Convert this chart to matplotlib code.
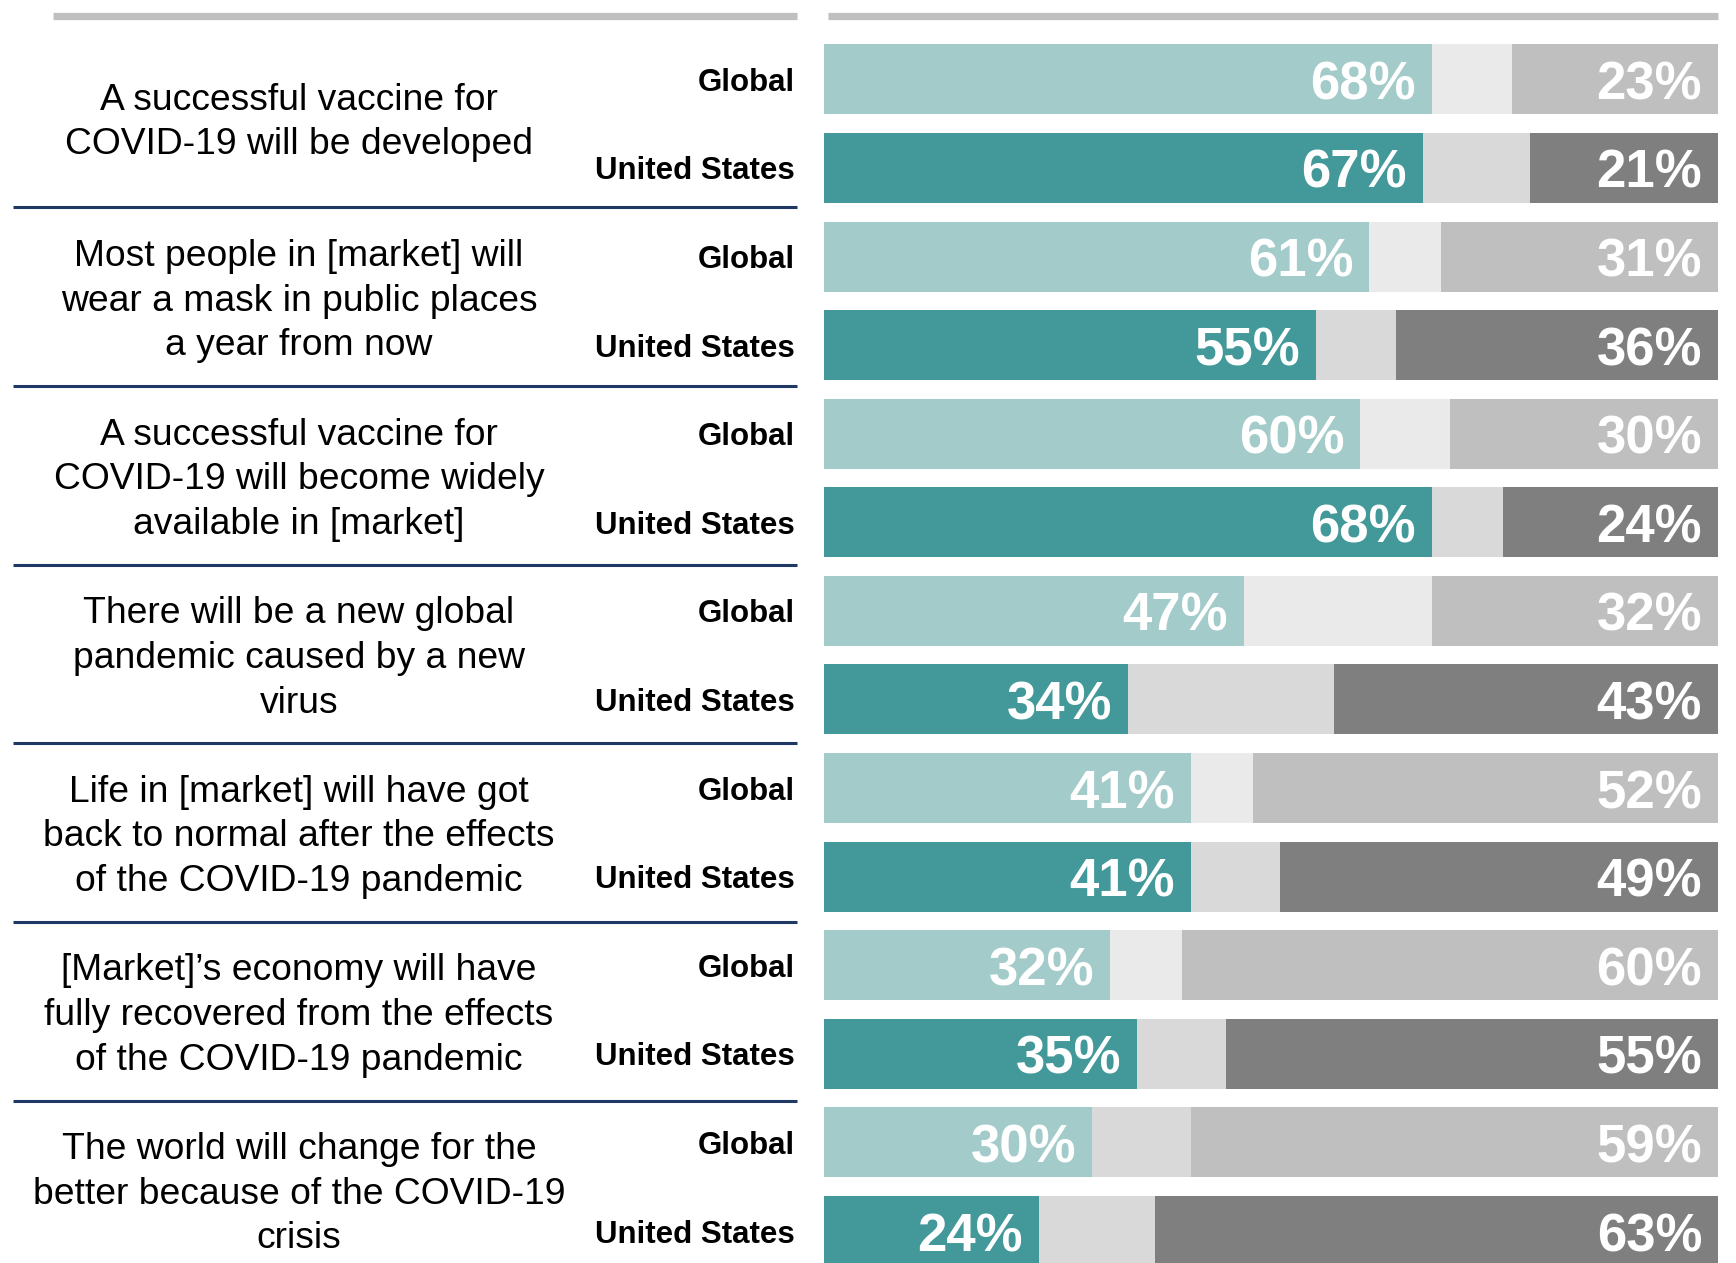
import numpy as np
import matplotlib
matplotlib.use("Agg")
import matplotlib.pyplot as plt

# ── DATA ──────────────────────────────────────────────────────────────────────
statements = [
    "A successful vaccine for\nCOVID-19 will be developed",
    "Most people in [market] will\nwear a mask in public places\na year from now",
    "A successful vaccine for\nCOVID-19 will become widely\navailable in [market]",
    "There will be a new global\npandemic caused by a new\nvirus",
    "Life in [market] will have got\nback to normal after the effects\nof the COVID-19 pandemic",
    "[Market]\u2019s economy will have\nfully recovered from the effects\nof the COVID-19 pandemic",
    "The world will change for the\nbetter because of the COVID-19\ncrisis",
]
row_labels = ["Global", "United States"]

global_agree    = [68, 61, 60, 47, 41, 32, 30]
global_disagree = [23, 31, 30, 32, 52, 60, 59]
us_agree        = [67, 55, 68, 34, 41, 35, 24]
us_disagree     = [21, 36, 24, 43, 49, 55, 63]

# ── STYLE ─────────────────────────────────────────────────────────────────────
plt.rcParams["font.family"] = ["Liberation Sans", "DejaVu Sans"]

W, H = 1736, 1263
DPI = 100
fig = plt.figure(figsize=(W / DPI, H / DPI), dpi=DPI)

# layout in pixels (y downwards)
bar_left, bar_right = 824, 1718
group_top0 = 44.3
group_step = 177.2
row_step = 88.6
bar_h = 70

# statement blocks and separators sit on a slightly longer pitch than the bars
text_top0 = 122.6
text_step = 178.6
sep_top0 = 207.3
sep_step = 178.7

agree_col = ["#A2CBCA", "#43999A"]
mid_col = ["#EAEAEA", "#D9D9D9"]
dis_col = ["#BFBFBF", "#7F7F7F"]

# text / lines overlay in pixel coordinates
tx = fig.add_axes([0, 0, 1, 1])
tx.set_xlim(0, W)
tx.set_ylim(H, 0)
tx.axis("off")

# bar axes: x in percent
ax = fig.add_axes([bar_left / W, 0, (bar_right - bar_left) / W, 1])
ax.set_xlim(0, 100)
ax.set_ylim(H, 0)
ax.axis("off")

# top grey rules
tx.plot([53, 797], [15.5, 15.5], color="#BFBFBF", lw=5.2, solid_capstyle="butt")
tx.plot([828, 1718], [15.5, 15.5], color="#BFBFBF", lw=5.2, solid_capstyle="butt")

px_per_pct = (bar_right - bar_left) / 100.0
pad = 16 / px_per_pct

for i, text in enumerate(statements):
    g_top = group_top0 + i * group_step
    rows = [(global_agree[i], global_disagree[i]), (us_agree[i], us_disagree[i])]
    for j, (agree, disagree) in enumerate(rows):
        yc = g_top + j * row_step + bar_h / 2
        mid = 100 - agree - disagree
        mcol = mid_col[j]
        if i == len(statements) - 1:
            mcol = "#D9D9D9"
        ax.barh(yc, agree, height=bar_h, left=0, color=agree_col[j], lw=0)
        ax.barh(yc, mid, height=bar_h, left=agree, color=mcol, lw=0)
        ax.barh(yc, disagree, height=bar_h, left=agree + mid, color=dis_col[j], lw=0)
        ax.text(agree - pad, yc + 6, f"{agree}%", ha="right", va="center",
                color="white", fontsize=38, fontweight="bold")
        ax.text(100 - pad, yc + 6, f"{disagree}%", ha="right", va="center",
                color="white", fontsize=38, fontweight="bold")
        tx.text(795, yc + 3.5, row_labels[j], ha="right", va="center",
                fontsize=22.5, fontweight="bold", color="black")

    # statement text, centred beside the group
    tx.text(299, text_top0 + i * text_step, text, ha="center", va="center",
            fontsize=26.8, color="black", linespacing=1.36)

    # navy separator below each group except the last
    if i < len(statements) - 1:
        sep_y = sep_top0 + i * sep_step
        tx.plot([13, 797], [sep_y, sep_y], color="#1F3864", lw=2.2,
                solid_capstyle="butt")

fig.savefig("out.png", dpi=DPI)
